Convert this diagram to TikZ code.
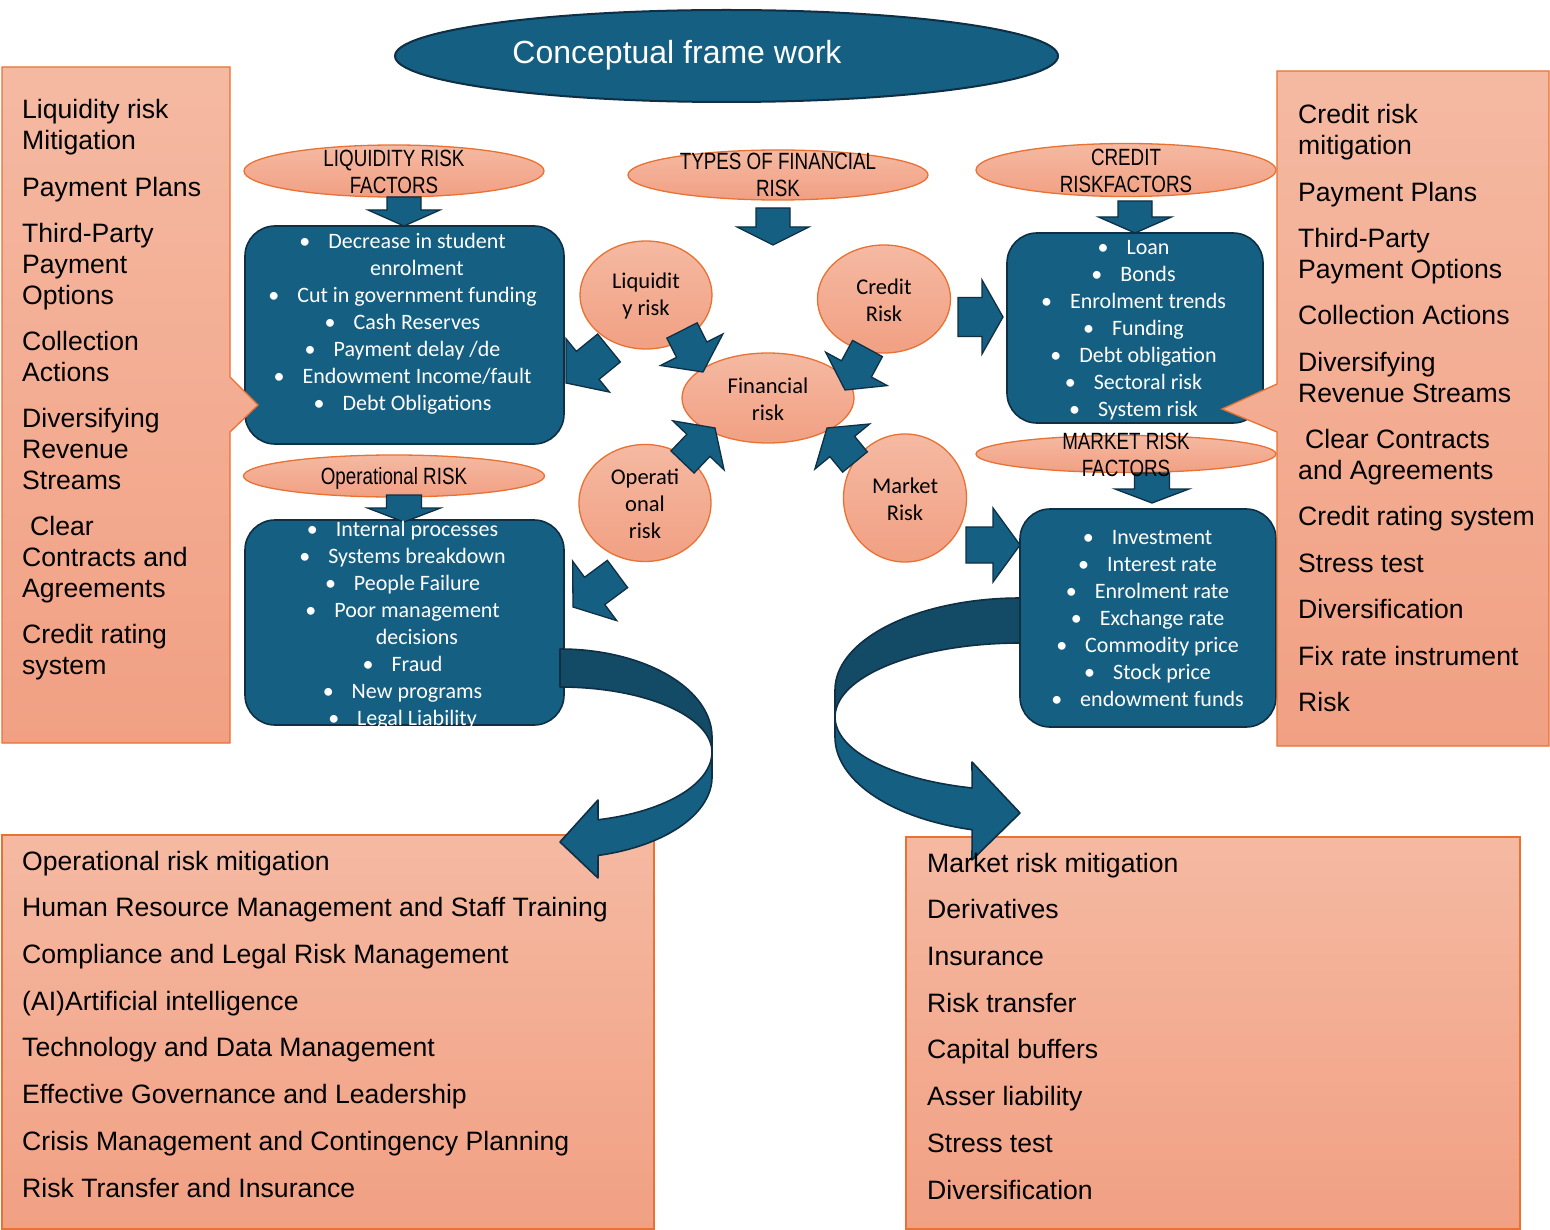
\documentclass[tikz,border=0pt]{standalone}
\usepackage{fontspec}
\setmainfont{Liberation Sans}
\newfontfamily\aptosf{Carlito}
\newfontfamily\narrowf[FakeStretch=0.8]{Liberation Sans}
\usetikzlibrary{shapes.geometric,calc}
\definecolor{dblue}{HTML}{156082}
\definecolor{dblueline}{HTML}{0E2F44}
\definecolor{bandd}{HTML}{134A66}
\definecolor{orng}{HTML}{E97132}
\definecolor{salt}{HTML}{F5B9A2}
\definecolor{salb}{HTML}{F1A083}
\newcommand{\bulitem}{\llap{\textbullet\hspace{18pt}}}
\newcommand{\blockarr}[6]{%
  \coordinate (#1t) at #2; \coordinate (#1h) at #3;
  \coordinate (#1b) at ($(#1h)!#6pt!(#1t)$);
  \draw[blockarrow] ($(#1t)!#4pt!90:(#1h)$) -- ($(#1b)!#4pt!-90:(#1t)$) -- ($(#1b)!#5pt!-90:(#1t)$) -- (#1h) -- ($(#1b)!#5pt!90:(#1t)$) -- ($(#1b)!#4pt!90:(#1t)$) -- ($(#1t)!#4pt!-90:(#1h)$) -- cycle;}
\tikzset{
  salmon/.style={draw=orng, line width=1.3pt, top color=salt, bottom color=salb},
  oval/.style={shape=ellipse, salmon, inner sep=0pt},
  bluebox/.style={draw=dblueline, fill=dblue, line width=1.6pt, rounded corners=30pt, inner sep=0pt, shape=rectangle},
  blockarrow/.style={draw=dblueline, fill=dblue, line width=1.3pt, line join=miter},
  band/.style={draw=dblueline, line width=1.6pt, line join=round},
  bigtext/.style={font=\fontsize{26.6}{30.7}\selectfont, align=left, inner sep=0pt, anchor=north west, text=black},
  bultext/.style={font=\aptosf\fontsize{22}{27}\selectfont, text=white, align=center, inner sep=0pt, anchor=north},
  ovaltext/.style={font=\narrowf\fontsize{23.5}{27}\selectfont, align=center, inner sep=0pt, text=black},
  circtext/.style={font=\aptosf\fontsize{22.5}{27}\selectfont, align=center, inner sep=0pt, text=black},
}
\begin{document}
\begin{tikzpicture}[x=1pt,y=-1pt]
\useasboundingbox (0,0) rectangle (1550,1230);
\fill[white] (0,0) rectangle (1550,1230);

% bottom boxes
\draw[salmon] (2,835) rectangle (654,1229);
\draw[salmon] (906,837) rectangle (1520,1229);

% title
\node[shape=ellipse, fill=dblue, draw=dblueline, line width=2pt, inner sep=0pt, minimum width=663pt, minimum height=92pt] (title) at (726.5,56) {};

% blue factor boxes
\node[bluebox, minimum width=319pt, minimum height=218pt] (b1) at (404.5,335) {};
\node[bluebox, minimum width=319pt, minimum height=205pt] (b2) at (404.5,622.5) {};
\node[bluebox, minimum width=256pt, minimum height=190pt] (b3) at (1135,328) {};
\node[bluebox, minimum width=256pt, minimum height=218pt] (b4) at (1148,618) {};

% salmon side boxes with pointers (over the blue boxes)
\draw[salmon] (2,67) -- (230,67) -- (230,377) -- (258,405) -- (230,432) -- (230,743) -- (2,743) -- cycle;
\draw[salmon] (1277,71) -- (1549,71) -- (1549,746) -- (1277,746) -- (1277,432) -- (1222,409) -- (1277,384) -- cycle;

% ovals
\node[oval, minimum width=300pt, minimum height=52pt] (olq) at (394,171) {};
\node[oval, minimum width=300pt, minimum height=50pt] (oty) at (778,175) {};
\node[oval, minimum width=300pt, minimum height=53pt] (ocr) at (1126,170) {};
\node[oval, minimum width=301pt, minimum height=42pt] (oop) at (394,476) {};
\node[oval, minimum width=300pt, minimum height=37pt] (omk) at (1126,454) {};

% circles
\node[oval, minimum width=132pt, minimum height=108pt] (cliq) at (646,295) {};
\node[oval, minimum width=133pt, minimum height=108pt] (ccr) at (884,299) {};
\node[oval, minimum width=172pt, minimum height=90pt] (cfin) at (768,398) {};
\node[oval, minimum width=132pt, minimum height=117pt] (cop) at (645,503) {};
\node[oval, minimum width=123pt, minimum height=128pt] (cmk) at (905,498) {};

% block arrows
\blockarr{a1}{(404,197)}{(404,226)}{17}{36}{16}
\blockarr{a2}{(773,208)}{(773,245)}{17}{36}{18}
\blockarr{a3}{(1135,201)}{(1135,233)}{17}{36.5}{16}
\blockarr{a4}{(404,495)}{(404,522)}{17.5}{36.5}{14}
\blockarr{a5}{(1152,473)}{(1152,503)}{17.5}{37}{14}
\blockarr{a6}{(958,317)}{(1003,317)}{19.5}{37}{21}
\blockarr{a7}{(966,545)}{(1020,545)}{18}{37}{27}
\blockarr{d1}{(609,348)}{(566,383)}{18}{34.5}{28}
\blockarr{d2}{(682,330.5)}{(703,372)}{17}{35}{25}
\blockarr{d3}{(867.5,348.5)}{(845,390)}{17}{35}{24}
\blockarr{d4}{(682.5,462)}{(715,428)}{16}{35.5}{24}
\blockarr{d5}{(855,462)}{(827,428)}{16}{35.5}{24}
\blockarr{d6}{(617.5,574)}{(573,607)}{17}{37}{27}

% curved arrow left
\draw[band, fill=bandd] plot[domain=90:0, samples=40] ({560+152*cos(\x)},{737-88*sin(\x)}) -- plot[domain=0:90, samples=40] ({560+152*cos(\x)},{752-65*sin(\x)}) -- cycle;
\coordinate (lh1) at (598,878); \coordinate (ltip) at (560,842); \coordinate (lh2) at (598,800);
\draw[band, fill=dblue] plot[domain=0:-75.5, samples=40] ({560+152*cos(\x)},{777-81*sin(\x)}) -- (lh1) -- (ltip) -- (lh2) -- plot[domain=-75.5:0, samples=40] ({560+152*cos(\x)},{752-70*sin(\x)}) -- cycle;

% curved arrow right
\draw[band, fill=bandd] plot[domain=90:180, samples=40] ({1020+185*cos(\x)},{690-92*sin(\x)}) -- plot[domain=180:90, samples=40] ({1020+185*cos(\x)},{717-74*sin(\x)}) -- cycle;
\coordinate (rh1) at (972,860); \coordinate (rtip) at (1020,813); \coordinate (rh2) at (972,762);
\draw[band, fill=dblue] plot[domain=180:255, samples=40] ({1020+185*cos(\x)},{737-96*sin(\x)}) -- (rh1) -- (rtip) -- (rh2) -- plot[domain=255:180, samples=40] ({1020+185*cos(\x)},{717-73.5*sin(\x)}) -- cycle;

% texts
\node[font=\fontsize{32}{38}\selectfont, text=white, inner sep=0pt] (ttxt) at (677,55) {Conceptual frame work};

\node[bigtext] (ltxt) at (22,97.3) {\strut Liquidity risk\\Mitigation\\[15.8pt]Payment Plans\\[15.8pt]Third-Party\\Payment\\Options\\[15.8pt]Collection\\Actions\\[15.8pt]Diversifying\\Revenue\\Streams\\[15.8pt]\hspace{8pt}Clear\\Contracts and\\Agreements\\[15.8pt]Credit rating\\system};

\node[bigtext] (rtxt) at (1298,102.3) {\strut Credit risk\\mitigation\\[15.8pt]Payment Plans\\[15.8pt]Third-Party\\Payment Options\\[15.8pt]Collection Actions\\[15.8pt]Diversifying\\Revenue Streams\\[15.8pt]\hspace{7pt}Clear Contracts\\and Agreements\\[15.8pt]Credit rating system\\[15.8pt]Stress test\\[15.8pt]Diversification\\[15.8pt]Fix rate instrument\\[15.8pt]Risk};

\node[bigtext, font=\fontsize{26.6}{46.7}\selectfont] (bltxt) at (22,837.3) {\strut Operational risk mitigation\\Human Resource Management and Staff Training\\Compliance and Legal Risk Management\\(AI)Artificial intelligence\\Technology and Data Management\\Effective Governance and Leadership\\Crisis Management and Contingency Planning\\Risk Transfer and Insurance};

\node[bigtext, font=\fontsize{26.6}{46.7}\selectfont] (brtxt) at (927,839.3) {\strut Market risk mitigation\\Derivatives\\Insurance\\Risk transfer\\Capital buffers\\Asser liability\\Stress test\\Diversification};

\node[bultext] (b1t) at (417,229.1) {\strut\bulitem Decrease in student\\enrolment\\\bulitem Cut in government funding\\\bulitem Cash Reserves\\\bulitem Payment delay /de\\\bulitem Endowment Income/fault\\\bulitem Debt Obligations};
\begin{scope}
\clip (240,500) rectangle (570,726);
\node[bultext] (b2t) at (417,517.1) {\strut\bulitem Internal processes\\\bulitem Systems breakdown\\\bulitem People Failure\\\bulitem Poor management\\decisions\\\bulitem Fraud\\\bulitem New programs\\\bulitem Legal Liability};
\end{scope}
\node[bultext] (b3t) at (1148,235.1) {\strut\bulitem Loan\\\bulitem Bonds\\\bulitem Enrolment trends\\\bulitem Funding\\\bulitem Debt obligation\\\bulitem Sectoral risk\\\bulitem System risk};
\node[bultext] (b4t) at (1162,525.1) {\strut\bulitem Investment\\\bulitem Interest rate\\\bulitem Enrolment rate\\\bulitem Exchange rate\\\bulitem Commodity price\\\bulitem Stock price\\\bulitem endowment funds};

\node[ovaltext] (tolq) at (394,172) {LIQUIDITY RISK\\FACTORS};
\node[ovaltext] (toty) at (778,175) {TYPES OF FINANCIAL\\RISK};
\node[ovaltext] (tocr) at (1126,171) {CREDIT\\RISKFACTORS};
\node[ovaltext] (toop) at (394,478) {Operational RISK};
\node[ovaltext] (tomk) at (1126,455) {MARKET RISK\\FACTORS};

\node[circtext] (tliq) at (646,296) {Liquidit\\y risk};
\node[circtext] (tcr) at (884,300) {Credit\\Risk};
\node[circtext] (tfin) at (768,399) {Financial\\risk};
\node[circtext] (top) at (645,504) {Operati\\onal\\risk};
\node[circtext] (tmk) at (905,499) {Market\\Risk};
\end{tikzpicture}
\end{document}
